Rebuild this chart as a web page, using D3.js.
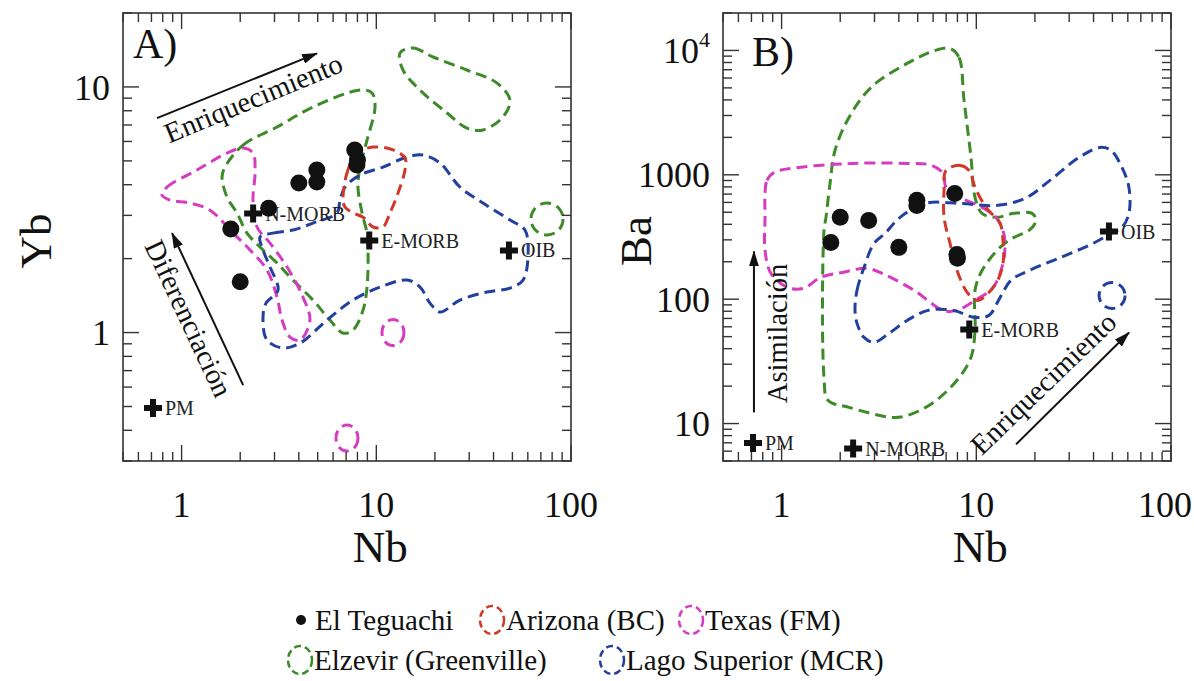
<!DOCTYPE html>
<html>
<head>
<meta charset="utf-8">
<script src="https://cdn.jsdelivr.net/npm/d3@7"></script>
<style>
  html, body { margin: 0; padding: 0; background: #fff; }
  svg { display: block; }
  text { font-family: "Liberation Serif", "Times New Roman", serif; }
</style>
</head>
<body>
<svg id="chart" width="1194" height="681"></svg>
<script>
// ---------- El Teguachi samples ----------
const sampleNb = [1.79, 2.0, 2.8, 4.0, 4.95, 4.95, 7.75, 8.0, 7.95];
const sampleYb = [2.64, 1.61, 3.21, 4.06, 4.59, 4.10, 5.54, 5.04, 4.81];
const sampleBa = [286, 455, 430, 261, 623, 567, 709, 213, 229];

// ---------- reference reservoirs ----------
const refNames = ["PM", "N-MORB", "E-MORB", "OIB"];
const refNb = [0.713, 2.33, 9.2, 48];
const refYb = [0.493, 3.05, 2.37, 2.16];
const refBa = [6.99, 6.3, 57, 350];

// ---------- comparison fields, Nb–Yb ----------
const elzevirYb = [[1.671,4.72],[2.068,5.80],[3.09,6.87],[4.73,8.28],[8.25,9.71],[9.50,9.45],[9.85,8.28],
  [8.96,6.08],[8.25,4.72],[8.05,3.91],[8.45,3.07],[8.96,2.54],[9.07,2.17],[8.96,1.532],[8.55,1.235],
  [7.59,1.024],[6.75,0.995],[5.78,1.124],[4.73,1.356],[3.73,1.636],[3.09,1.919],[2.527,2.229],
  [2.167,2.54],[1.925,3.07],[1.711,3.56],[1.613,4.30]];
const elzevirYb2 = [[13.24,13.74],[15.44,14.40],[19.56,13.24],[29.2,11.72],[41.7,10.37],[48.6,8.84],
  [44.7,7.54],[35.3,6.68],[29.2,6.80],[23.1,7.83],[16.77,9.71],[13.71,11.72]];
const elzevirYbRing = [[75.3, 2.90]];
const arizonaYb = [[6.75,3.46],[7.07,4.46],[7.96,5.38],[9.62,5.69],[12.18,5.54],[14.04,5.13],[14.04,4.59],
  [12.93,3.70],[11.76,3.07],[10.82,2.69],[9.62,2.69],[8.55,2.95],[7.59,3.07],[6.91,3.24]];
const texasYb = [[0.793,3.63],[0.841,3.91],[1.20,4.59],[1.711,5.38],[2.068,5.64],[2.326,5.38],[2.382,4.46],
  [2.326,3.46],[2.44,2.69],[2.845,2.314],[3.48,1.848],[4.20,1.395],[4.56,1.124],[4.06,0.932],[3.60,0.959],
  [3.28,1.124],[3.09,1.395],[2.745,1.797],[2.245,2.17],[1.837,2.54],[1.399,3.15],[1.104,3.37],[0.872,3.46]];
const texasYbRings = [[12.18, 1.0], [7.07, 0.372]];
const lagoYb = [[2.527,2.448],[2.948,2.54],[3.73,2.614],[4.73,2.792],[6.28,3.07],[6.51,3.46],[6.91,3.91],
  [8.25,4.38],[10.82,4.72],[14.38,5.18],[17.37,5.28],[21.24,4.90],[26.9,3.91],[35.3,3.37],[48.6,2.87],
  [58.0,2.614],[60.1,2.03],[56.7,1.636],[48.6,1.518],[37.0,1.462],[26.9,1.356],[21.24,1.212],[18.87,1.318],
  [16.77,1.532],[14.38,1.636],[10.45,1.532],[7.59,1.356],[5.58,1.124],[4.06,0.906],[3.32,0.865],
  [2.745,0.932],[2.619,1.156],[2.713,1.318],[3.127,1.489],[2.845,1.848],[2.619,2.17]];

// ---------- comparison fields, Nb–Ba ----------
const elzevirBa = [[7.33,10370],[8.15,8785],[8.65,3963],[9.39,1380],[9.85,658],[10.70,490],[12.62,455],
  [15.62,490],[19.32,490],[20.26,430],[18.65,357],[15.62,314],[13.24,261],[10.70,170],[9.85,118],
  [9.85,56.1],[9.39,34.1],[7.96,22.3],[5.92,14.5],[4.41,11.6],[3.69,11.2],[2.219,13.5],[1.731,15.4],
  [1.651,23.5],[1.651,357],[1.690,455],[1.773,853],[1.881,1571],[2.219,2893],[2.879,5041],[4.41,7862],[6.14,10000]];
const arizonaBa = [[6.99,1085],[8.25,1190],[9.17,1085],[9.85,792],[11.21,547],[13.24,407],[13.71,297],
  [13.71,194],[12.62,134],[10.20,97.8],[9.07,111],[7.96,170],[7.33,281],[6.83,455],[6.83,749]];
const texasBa = [[0.822,709],[0.841,902],[0.914,1045],[1.228,1147],[2.326,1235],[4.41,1235],[5.92,1190],
  [6.75,1026],[6.99,792],[8.25,658],[10.70,547],[12.62,455],[13.71,357],[14.04,281],[13.71,194],
  [12.18,124],[9.85,97.8],[7.96,81.3],[6.75,81.3],[4.79,118],[3.28,161],[2.745,177],[2.043,164],
  [1.594,150],[1.288,122],[1.079,124],[0.882,161],[0.822,247],[0.822,455]];
const lagoBa = [[2.382,81.3],[2.44,118],[2.650,180],[2.983,281],[3.40,338],[4.06,455],[5.45,589],[8.25,589],
  [12.62,567],[17.79,646],[23.9,902],[33.7,1380],[43.2,1661],[49.2,1571],[56.0,1147],[60.8,792],[60.8,490],
  [56.0,378],[49.2,338],[39.8,281],[27.2,217],[18.65,170],[15.08,142],[13.24,103],[11.62,74.1],[9.85,71.4],
  [7.59,81.3],[5.65,81.3],[4.41,67.5],[3.56,53.1],[2.983,45.0],[2.650,49.3],[2.44,63.9]];
const lagoBaRing = [[49.8, 107]];

// ---------- axis ticks ----------
const xDomain = [0.5, 100];
const ybDomain = [0.3, 20];
const baDomain = [5, 20000];
const xTickValues = [1, 10, 100];
const xTickLabels = ["1", "10", "100"];
const ybTickValues = [1, 10];
const ybTickLabels = ["1", "10"];
const baTickValues = [10, 100, 1000, 10000];
const baTickLabels = ["10", "100", "1000", "10^4"];

// ---------- legend ----------
const legendNames = ["El Teguachi", "Arizona (BC)", "Texas (FM)", "Elzevir (Greenville)", "Lago Superior (MCR)"];

const COLORS = {
  elzevir: "#3c8a28",
  arizona: "#d0382a",
  texas: "#d63cc0",
  lago: "#23409e"
};

const svg = d3.select("#chart");
const SIZE = 448;
const VIEW_W = 1194;

const defs = svg.append("defs");
defs.append("marker")
  .attr("id", "arrowhead")
  .attr("markerUnits", "userSpaceOnUse")
  .attr("viewBox", "0 0 16 10")
  .attr("markerWidth", 16).attr("markerHeight", 10)
  .attr("refX", 15).attr("refY", 5)
  .attr("orient", "auto")
  .append("path").attr("d", "M0,0 L16,5 L0,10 Z").attr("fill", "#111");

function drawPanel(opts) {
  const g = svg.append("g").attr("transform", `translate(${opts.left},${opts.top})`);
  const x = d3.scaleLog().domain(xDomain).range([0, SIZE]);
  const y = d3.scaleLog().domain(opts.yDomain).range([SIZE, 0]);

  // dashed fields
  const line = d3.line().x(d => x(d[0])).y(d => y(d[1])).curve(d3.curveCatmullRomClosed.alpha(0.5));
  const fields = g.append("g").attr("fill", "none").attr("stroke-width", 3).attr("stroke-dasharray", "11 6");
  opts.fields.forEach(f => {
    fields.append("path").attr("d", line(f.pts)).attr("stroke", f.color);
  });
  opts.rings.forEach(r => {
    r.pts.forEach(p => {
      fields.append("ellipse").attr("cx", x(p[0])).attr("cy", y(p[1]))
        .attr("rx", r.rx).attr("ry", r.ry).attr("stroke", r.color);
    });
  });

  // frame
  g.append("rect").attr("width", SIZE).attr("height", SIZE)
    .attr("fill", "none").attr("stroke", "#333").attr("stroke-width", 1.6);

  // inward ticks on all four sides
  const isMajor = v => Math.abs(Math.log10(v) - Math.round(Math.log10(v))) < 1e-9;
  const xt = x.ticks().filter(v => v >= xDomain[0] && v <= xDomain[1]);
  const yt = y.ticks().filter(v => v >= opts.yDomain[0] && v <= opts.yDomain[1]);
  const tk = g.append("g").attr("stroke", "#333").attr("stroke-width", 1.4);
  xt.forEach(v => {
    const L = isMajor(v) ? 16 : 9;
    tk.append("line").attr("x1", x(v)).attr("x2", x(v)).attr("y1", SIZE).attr("y2", SIZE - L);
    tk.append("line").attr("x1", x(v)).attr("x2", x(v)).attr("y1", 0).attr("y2", L);
  });
  yt.forEach(v => {
    const L = isMajor(v) ? 16 : 9;
    tk.append("line").attr("y1", y(v)).attr("y2", y(v)).attr("x1", 0).attr("x2", L);
    tk.append("line").attr("y1", y(v)).attr("y2", y(v)).attr("x1", SIZE).attr("x2", SIZE - L);
  });

  // tick labels
  xTickValues.forEach((v, i) => {
    const t = g.append("text").attr("x", x(v)).attr("y", SIZE + 56)
      .attr("text-anchor", "middle").attr("font-size", 36).attr("fill", "#111").text(xTickLabels[i]);
    // keep the last label inside the page
    const bb = t.node().getBBox();
    const overflow = opts.left + bb.x + bb.width - (VIEW_W - 2);
    if (overflow > 0) t.attr("x", x(v) - overflow);
  });
  opts.yTickValues.forEach((v, i) => {
    const t = g.append("text").attr("x", -13).attr("y", y(v)).attr("dy", "0.35em")
      .attr("text-anchor", "end").attr("font-size", 36).attr("fill", "#111");
    const lab = opts.yTickLabels[i];
    if (lab.includes("^")) {
      const [b, e] = lab.split("^");
      t.append("tspan").text(b);
      t.append("tspan").attr("font-size", 22).attr("dy", "-0.75em").text(e);
    } else {
      t.text(lab);
    }
  });

  // axis titles
  g.append("text").attr("x", x(10) + 4).attr("y", SIZE + 101)
    .attr("text-anchor", "middle").attr("font-size", 45).attr("fill", "#111").text("Nb");
  g.append("text").attr("transform", `translate(${opts.titleX},${SIZE / 2 + 4}) rotate(-90)`)
    .attr("text-anchor", "middle").attr("font-size", 45).attr("fill", "#111").text(opts.yTitle);

  // panel letter
  g.append("text").attr("x", opts.letterX).attr("y", opts.letterY)
    .attr("font-size", 42).attr("fill", "#111").text(opts.letter);

  // arrows and their captions
  opts.arrows.forEach(a => {
    g.append("line")
      .attr("x1", x(a.from[0])).attr("y1", y(a.from[1]))
      .attr("x2", x(a.to[0])).attr("y2", y(a.to[1]))
      .attr("stroke", "#111").attr("stroke-width", 2).attr("marker-end", "url(#arrowhead)");
    g.append("text")
      .attr("transform", `translate(${x(a.at[0])},${y(a.at[1])}) rotate(${a.angle})`)
      .attr("text-anchor", "middle").attr("font-size", 28.5).attr("fill", "#111").text(a.text);
  });

  // reservoir crosses and names
  const cross = d3.symbol(d3.symbolCross, 180);
  refNames.forEach((n, i) => {
    const cx = x(refNb[i]), cy = y(opts.refY[i]);
    g.append("text").attr("x", cx + 12).attr("y", cy + 7)
      .attr("font-size", 20).attr("fill", "#222").text(n);
    g.append("path").attr("d", cross).attr("transform", `translate(${cx},${cy})`).attr("fill", "#111");
  });

  // samples
  sampleNb.forEach((nb, i) => {
    g.append("circle").attr("cx", x(nb)).attr("cy", y(opts.sampleY[i])).attr("r", 8.5).attr("fill", "#111");
  });
}

drawPanel({
  left: 123, top: 13, yDomain: ybDomain, yTitle: "Yb", titleX: -72,
  yTickValues: ybTickValues, yTickLabels: ybTickLabels,
  letter: "A)", letterX: 10, letterY: 45,
  refY: refYb, sampleY: sampleYb,
  fields: [
    { pts: elzevirYb, color: COLORS.elzevir },
    { pts: elzevirYb2, color: COLORS.elzevir },
    { pts: texasYb, color: COLORS.texas },
    { pts: lagoYb, color: COLORS.lago },
    { pts: arizonaYb, color: COLORS.arizona }
  ],
  rings: [
    { pts: elzevirYbRing, rx: 16, ry: 16, color: COLORS.elzevir },
    { pts: texasYbRings, rx: 11, ry: 13, color: COLORS.texas }
  ],
  arrows: [
    { from: [0.747, 7.47], to: [4.96, 13.7], at: [2.44, 8.28], angle: -22.5, text: "Enriquecimiento" },
    { from: [2.07, 0.611], to: [0.893, 2.54], at: [0.98, 1.10], angle: 65, text: "Diferenciación" }
  ]
});

drawPanel({
  left: 723, top: 13, yDomain: baDomain, yTitle: "Ba", titleX: -72,
  yTickValues: baTickValues, yTickLabels: baTickLabels,
  letter: "B)", letterX: 29, letterY: 53,
  refY: refBa, sampleY: sampleBa,
  fields: [
    { pts: elzevirBa, color: COLORS.elzevir },
    { pts: texasBa, color: COLORS.texas },
    { pts: lagoBa, color: COLORS.lago },
    { pts: arizonaBa, color: COLORS.arizona }
  ],
  rings: [
    { pts: lagoBaRing, rx: 13, ry: 13, color: COLORS.lago }
  ],
  arrows: [
    { from: [0.721, 12.3], to: [0.721, 242], at: [1.066, 53], angle: -90, text: "Asimilación" },
    { from: [16.0, 6.8], to: [60.9, 54], at: [23.9, 18.5], angle: -44, text: "Enriquecimiento" }
  ]
});

// ---------- legend ----------
const leg = svg.append("g").attr("font-size", 29).attr("fill", "#111");
const legendItems = [
  { name: legendNames[0], kind: "dot", color: "#111", ix: 301, tx: 315, cy: 620 },
  { name: legendNames[1], kind: "ring", color: COLORS.arizona, ix: 492, tx: 506, cy: 620 },
  { name: legendNames[2], kind: "ring", color: COLORS.texas, ix: 691, tx: 705, cy: 620 },
  { name: legendNames[3], kind: "ring", color: COLORS.elzevir, ix: 300, tx: 314, cy: 660 },
  { name: legendNames[4], kind: "ring", color: COLORS.lago, ix: 612, tx: 626, cy: 660 }
];
legendItems.forEach(d => {
  if (d.kind === "dot") {
    leg.append("circle").attr("cx", d.ix).attr("cy", d.cy).attr("r", 5).attr("fill", d.color);
  } else {
    leg.append("ellipse").attr("cx", d.ix).attr("cy", d.cy).attr("rx", 12).attr("ry", 14)
      .attr("fill", "none").attr("stroke", d.color).attr("stroke-width", 2.5).attr("stroke-dasharray", "7 4");
  }
  leg.append("text").attr("x", d.tx).attr("y", d.cy + 10).text(d.name);
});
</script>
</body>
</html>
